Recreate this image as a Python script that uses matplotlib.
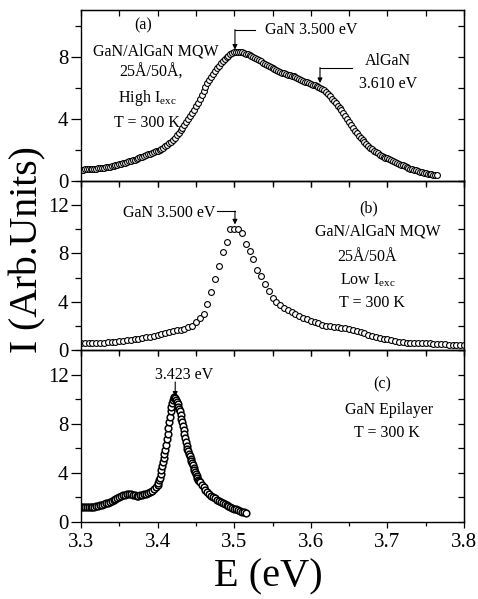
import matplotlib.pyplot as plt
from matplotlib.ticker import MultipleLocator, NullFormatter

plt.rcParams['font.family'] = 'Liberation Serif'
plt.rcParams['mathtext.fontset'] = 'custom'
plt.rcParams['mathtext.rm'] = 'Liberation Serif'
plt.rcParams['mathtext.it'] = 'Liberation Serif:italic'

# (a) GaN/AlGaN MQW, high excitation
e_a = [3.3000, 3.3025, 3.3050, 3.3075, 3.3100, 3.3125, 3.3150, 3.3175, 3.3200, 3.3225,
       3.3250, 3.3275, 3.3300, 3.3325, 3.3350, 3.3375, 3.3400, 3.3425, 3.3450, 3.3475,
       3.3500, 3.3525, 3.3550, 3.3575, 3.3600, 3.3625, 3.3650, 3.3675, 3.3700, 3.3725,
       3.3750, 3.3775, 3.3800, 3.3825, 3.3850, 3.3875, 3.3900, 3.3925, 3.3950, 3.3975,
       3.4000, 3.4025, 3.4050, 3.4075, 3.4100, 3.4125, 3.4150, 3.4175, 3.4200, 3.4225,
       3.4250, 3.4275, 3.4300, 3.4325, 3.4350, 3.4375, 3.4400, 3.4425, 3.4450, 3.4475,
       3.4500, 3.4525, 3.4550, 3.4575, 3.4600, 3.4625, 3.4650, 3.4675, 3.4700, 3.4725,
       3.4750, 3.4775, 3.4800, 3.4825, 3.4850, 3.4875, 3.4900, 3.4925, 3.4950, 3.4975,
       3.5000, 3.5025, 3.5050, 3.5075, 3.5100, 3.5125, 3.5150, 3.5175, 3.5200, 3.5225,
       3.5250, 3.5275, 3.5300, 3.5325, 3.5350, 3.5375, 3.5400, 3.5425, 3.5450, 3.5475,
       3.5500, 3.5525, 3.5550, 3.5575, 3.5600, 3.5625, 3.5650, 3.5675, 3.5700, 3.5725,
       3.5750, 3.5775, 3.5800, 3.5825, 3.5850, 3.5875, 3.5900, 3.5925, 3.5950, 3.5975,
       3.6000, 3.6025, 3.6050, 3.6075, 3.6100, 3.6125, 3.6150, 3.6175, 3.6200, 3.6225,
       3.6250, 3.6275, 3.6300, 3.6325, 3.6350, 3.6375, 3.6400, 3.6425, 3.6450, 3.6475,
       3.6500, 3.6525, 3.6550, 3.6575, 3.6600, 3.6625, 3.6650, 3.6675, 3.6700, 3.6725,
       3.6750, 3.6775, 3.6800, 3.6825, 3.6850, 3.6875, 3.6900, 3.6925, 3.6950, 3.6975,
       3.7000, 3.7025, 3.7050, 3.7075, 3.7100, 3.7125, 3.7150, 3.7175, 3.7200, 3.7225,
       3.7250, 3.7275, 3.7300, 3.7325, 3.7350, 3.7375, 3.7400, 3.7425, 3.7450, 3.7475,
       3.7500, 3.7525, 3.7550, 3.7575, 3.7600, 3.7625, 3.7650]
i_a = [0.72, 0.73, 0.74, 0.75, 0.76, 0.77, 0.78, 0.79, 0.80, 0.815,
       0.83, 0.845, 0.86, 0.875, 0.89, 0.915, 0.94, 0.97, 1.00, 1.035,
       1.07, 1.105, 1.14, 1.18, 1.22, 1.26, 1.30, 1.34, 1.38, 1.425,
       1.47, 1.515, 1.56, 1.61, 1.66, 1.71, 1.76, 1.81, 1.86, 1.91,
       1.96, 2.02, 2.08, 2.15, 2.22, 2.32, 2.42, 2.53, 2.65, 2.79,
       2.93, 3.09, 3.25, 3.42, 3.60, 3.79, 3.98, 4.18, 4.38, 4.59,
       4.80, 5.02, 5.25, 5.52, 5.80, 6.04, 6.28, 6.49, 6.70, 6.90,
       7.10, 7.26, 7.42, 7.56, 7.70, 7.83, 7.95, 8.05, 8.15, 8.21,
       8.27, 8.29, 8.30, 8.29, 8.27, 8.24, 8.20, 8.16, 8.12, 8.05,
       7.98, 7.90, 7.82, 7.76, 7.70, 7.62, 7.55, 7.48, 7.42, 7.35,
       7.28, 7.20, 7.12, 7.06, 7.00, 6.96, 6.92, 6.88, 6.85, 6.82,
       6.78, 6.73, 6.68, 6.62, 6.55, 6.50, 6.44, 6.39, 6.34, 6.29,
       6.24, 6.20, 6.15, 6.10, 6.05, 5.99, 5.92, 5.83, 5.72, 5.59,
       5.45, 5.30, 5.15, 5.00, 4.85, 4.70, 4.55, 4.37, 4.18, 3.98,
       3.78, 3.59, 3.40, 3.23, 3.06, 2.90, 2.75, 2.62, 2.50, 2.38,
       2.26, 2.15, 2.04, 1.95, 1.86, 1.78, 1.70, 1.63, 1.56, 1.50,
       1.45, 1.39, 1.34, 1.29, 1.24, 1.18, 1.12, 1.06, 1.00, 0.95,
       0.90, 0.85, 0.80, 0.76, 0.72, 0.68, 0.64, 0.60, 0.56, 0.53,
       0.50, 0.47, 0.44, 0.42, 0.40, 0.385, 0.37]

# (b) GaN/AlGaN MQW, low excitation
e_b = [3.300, 3.305, 3.310, 3.315, 3.320, 3.325, 3.330, 3.335, 3.340, 3.345,
       3.350, 3.355, 3.360, 3.365, 3.370, 3.375, 3.380, 3.385, 3.390, 3.395,
       3.400, 3.405, 3.410, 3.415, 3.420, 3.425, 3.430, 3.435, 3.440, 3.445,
       3.450, 3.455, 3.460, 3.465, 3.470, 3.475, 3.480, 3.485, 3.490, 3.495,
       3.500, 3.505, 3.510, 3.515, 3.520, 3.525, 3.530, 3.535, 3.540, 3.545,
       3.550, 3.555, 3.560, 3.565, 3.570, 3.575, 3.580, 3.585, 3.590, 3.595,
       3.600, 3.605, 3.610, 3.615, 3.620, 3.625, 3.630, 3.635, 3.640, 3.645,
       3.650, 3.655, 3.660, 3.665, 3.670, 3.675, 3.680, 3.685, 3.690, 3.695,
       3.700, 3.705, 3.710, 3.715, 3.720, 3.725, 3.730, 3.735, 3.740, 3.745,
       3.750, 3.755, 3.760, 3.765, 3.770, 3.775, 3.780, 3.785, 3.790, 3.795,
       3.800]
i_b = [0.55, 0.56, 0.57, 0.58, 0.60, 0.61, 0.62, 0.64, 0.66, 0.69,
       0.72, 0.75, 0.79, 0.83, 0.88, 0.93, 0.98, 1.04, 1.10, 1.17,
       1.24, 1.32, 1.40, 1.48, 1.55, 1.62, 1.68, 1.76, 1.87, 2.02,
       2.28, 2.62, 3.02, 3.80, 4.80, 5.85, 7.00, 8.08, 8.95, 10.0,
       10.0, 10.0, 9.66, 8.75, 8.20, 7.50, 6.65, 6.10, 5.45, 4.85,
       4.30, 3.98, 3.73, 3.52, 3.32, 3.12, 2.95, 2.80, 2.66, 2.54,
       2.42, 2.32, 2.20, 2.10, 2.02, 1.96, 1.92, 1.88, 1.85, 1.80,
       1.72, 1.64, 1.56, 1.48, 1.38, 1.28, 1.19, 1.10, 1.02, 0.94,
       0.87, 0.80, 0.75, 0.70, 0.65, 0.62, 0.60, 0.58, 0.57, 0.56,
       0.55, 0.54, 0.52, 0.50, 0.49, 0.47, 0.45, 0.44, 0.42, 0.41,
       0.40]

# (c) GaN epilayer
e_c = [3.3000, 3.3025, 3.3050, 3.3075, 3.3100, 3.3125, 3.3150, 3.3175, 3.3200, 3.3225,
       3.3250, 3.3275, 3.3300, 3.3325, 3.3350, 3.3375, 3.3400, 3.3425, 3.3450, 3.3475,
       3.3500, 3.3525, 3.3550, 3.3575, 3.3600, 3.3625, 3.3650, 3.3675, 3.3700, 3.3725,
       3.3750, 3.3775, 3.3800, 3.3825, 3.3850, 3.3875, 3.3900, 3.3925, 3.3950, 3.3975,
       3.400, 3.401, 3.402, 3.403, 3.404, 3.405, 3.406, 3.407, 3.408, 3.409,
       3.410, 3.411, 3.412, 3.413, 3.414, 3.415, 3.416, 3.417, 3.418, 3.419,
       3.420, 3.421, 3.422, 3.423, 3.424, 3.425, 3.426, 3.427, 3.428, 3.429,
       3.430, 3.431, 3.432, 3.433, 3.434, 3.435, 3.436, 3.437, 3.438, 3.439,
       3.440, 3.441, 3.442, 3.443, 3.444, 3.445, 3.446, 3.447, 3.448, 3.449,
       3.450, 3.451, 3.452, 3.453, 3.454, 3.455,
       3.4575, 3.4600, 3.4625, 3.4650, 3.4675, 3.4700, 3.4725, 3.4750, 3.4775, 3.4800,
       3.4825, 3.4850, 3.4875, 3.4900, 3.4925, 3.4950, 3.4975, 3.5000, 3.5025, 3.5050,
       3.5075, 3.5100, 3.5125, 3.5150]
i_c = [1.22, 1.20, 1.20, 1.19, 1.20, 1.21, 1.23, 1.25, 1.28, 1.32,
       1.37, 1.42, 1.47, 1.52, 1.57, 1.63, 1.70, 1.78, 1.86, 1.95,
       2.03, 2.10, 2.16, 2.22, 2.26, 2.28, 2.26, 2.22, 2.18, 2.15,
       2.14, 2.16, 2.20, 2.24, 2.28, 2.34, 2.42, 2.52, 2.65, 2.82,
       3.05, 3.20, 3.38, 3.60, 3.88, 4.20, 4.55, 4.90, 5.25, 5.55,
       5.88, 6.30, 6.75, 7.20, 7.65, 8.10, 8.55, 9.00, 9.40, 9.70,
       9.95, 10.1, 10.2, 10.1, 9.95, 9.80, 9.60, 9.40, 9.20, 9.00,
       8.70, 8.40, 8.10, 7.80, 7.50, 7.15, 6.80, 6.48, 6.15, 5.95,
       5.75, 5.55, 5.35, 5.15, 4.97, 4.79, 4.60, 4.42, 4.25, 4.08,
       3.92, 3.77, 3.60, 3.43, 3.33, 3.23,
       3.02, 2.82, 2.63, 2.45, 2.28, 2.14, 2.02, 1.92, 1.82, 1.73,
       1.64, 1.56, 1.47, 1.38, 1.30, 1.22, 1.15, 1.08, 1.02, 0.96,
       0.90, 0.85, 0.80, 0.76]

y_max = [11, 14, 14]
y_ticks = [[0, 4, 8], [0, 4, 8, 12], [0, 4, 8, 12]]

fig = plt.figure(figsize=(4.78, 5.99), dpi=100)
left, width = 81 / 478, 383 / 478
boxes = [(1 - 181 / 599, 171 / 599), (1 - 350 / 599, 169 / 599), (1 - 522 / 599, 172 / 599)]
axes = []
for b, h in boxes:
    ax = fig.add_axes([left, b, width, h])
    ax.patch.set_visible(False)
    axes.append(ax)


def style_axis(ax, ymax, yticks, show_x):
    ax.set_xlim(3.3, 3.8)
    ax.set_ylim(0, ymax)
    ax.xaxis.set_major_locator(MultipleLocator(0.1))
    ax.xaxis.set_minor_locator(MultipleLocator(0.05))
    ax.set_yticks(yticks)
    ax.yaxis.set_minor_locator(MultipleLocator(2))
    for s in ax.spines.values():
        s.set_linewidth(1.0)
    ax.tick_params(axis='y', which='major', direction='out', length=7, width=0.9,
                   labelsize=15, pad=2)
    ax.tick_params(axis='y', which='minor', direction='out', length=4, width=0.9)
    ax.tick_params(axis='x', which='major', direction='out', length=4, width=0.9,
                   labelsize=15, pad=4)
    ax.tick_params(axis='x', which='minor', direction='out', length=3, width=0.9)
    if not show_x:
        ax.xaxis.set_major_formatter(NullFormatter())
    # mirrored axes, ticks pointing inwards
    top = ax.secondary_xaxis('top')
    top.xaxis.set_major_locator(MultipleLocator(0.1))
    top.xaxis.set_minor_locator(MultipleLocator(0.05))
    top.xaxis.set_major_formatter(NullFormatter())
    top.tick_params(which='both', direction='in', length=4, width=0.9)
    right = ax.secondary_yaxis('right')
    right.yaxis.set_major_locator(MultipleLocator(2))
    right.yaxis.set_major_formatter(NullFormatter())
    right.tick_params(which='both', direction='in', length=4, width=0.9)


marker = dict(ls='none', marker='o', mfc='white', mec='black', ms=4.2, mew=0.8)
ax_a, ax_b, ax_c = axes
ax_a.plot(e_a, i_a, **marker)
ax_b.plot(e_b, i_b, **marker)
ax_c.plot(e_c, i_c, **dict(marker, ms=4.8, mew=1.1))

for k, ax in enumerate(axes):
    style_axis(ax, y_max[k], y_ticks[k], k == 2)

fs = 11.5
arrow = dict(arrowstyle='-|>', color='black', lw=0.8, mutation_scale=7,
             shrinkA=0, shrinkB=0)

# (a)
ax_a.text(3.381, 10.0, '(a)', ha='center', va='center', fontsize=fs)
ax_a.text(3.398, 8.3, 'GaN/AlGaN MQW', ha='center', va='center', fontsize=fs)
ax_a.text(3.391, 6.95, '25Å/50Å,', ha='center', va='center', fontsize=fs)
ax_a.text(3.387, 5.35, r'High I$_{\rm exc}$', ha='center', va='center', fontsize=fs)
ax_a.text(3.386, 3.75, 'T = 300 K', ha='center', va='center', fontsize=fs)
ax_a.plot([3.501, 3.527], [9.74, 9.74], color='black', lw=0.8)
ax_a.annotate('', xy=(3.501, 8.45), xytext=(3.501, 9.74), arrowprops=arrow)
ax_a.text(3.540, 9.74, 'GaN 3.500 eV', ha='left', va='center', fontsize=fs)
ax_a.plot([3.612, 3.654], [7.3, 7.3], color='black', lw=0.8)
ax_a.annotate('', xy=(3.612, 6.3), xytext=(3.612, 7.3), arrowprops=arrow)
ax_a.text(3.701, 7.7, 'AlGaN', ha='center', va='center', fontsize=fs)
ax_a.text(3.701, 6.25, '3.610 eV', ha='center', va='center', fontsize=fs)

# (b)
ax_b.text(3.476, 11.34, 'GaN 3.500 eV', ha='right', va='center', fontsize=fs)
ax_b.plot([3.478, 3.501], [11.5, 11.5], color='black', lw=0.8)
ax_b.annotate('', xy=(3.501, 10.4), xytext=(3.501, 11.5), arrowprops=arrow)
ax_b.text(3.676, 11.75, '(b)', ha='center', va='center', fontsize=fs)
ax_b.text(3.687, 9.8, 'GaN/AlGaN MQW', ha='center', va='center', fontsize=fs)
ax_b.text(3.674, 7.72, '25Å/50Å', ha='center', va='center', fontsize=fs)
ax_b.text(3.675, 5.8, r'Low I$_{\rm exc}$', ha='center', va='center', fontsize=fs)
ax_b.text(3.680, 3.9, 'T = 300 K', ha='center', va='center', fontsize=fs)

# (c)
ax_c.text(3.4345, 12.0, '3.423 eV', ha='center', va='center', fontsize=fs)
ax_c.annotate('', xy=(3.423, 10.2), xytext=(3.423, 11.4), arrowprops=arrow)
ax_c.text(3.693, 11.18, '(c)', ha='center', va='center', fontsize=fs)
ax_c.text(3.702, 9.14, 'GaN Epilayer', ha='center', va='center', fontsize=fs)
ax_c.text(3.699, 7.27, 'T = 300 K', ha='center', va='center', fontsize=fs)

fig.text(0.058, 1 - 250 / 599, 'I (Arb.Units)', rotation=90, ha='center', va='center',
         fontsize=28.5)
fig.text(268 / 478, 1 - 577 / 599, 'E (eV)', ha='center', va='center', fontsize=29)

fig.savefig('out.png', dpi=100)
